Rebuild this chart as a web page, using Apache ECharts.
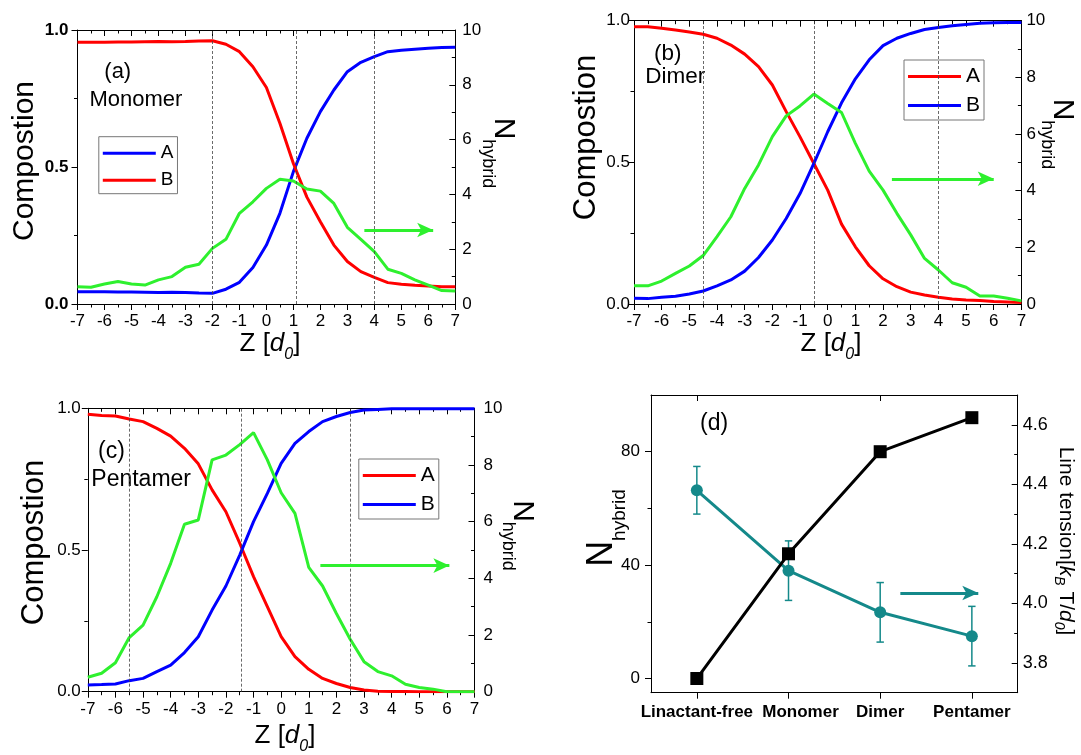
<!DOCTYPE html>
<html><head><meta charset="utf-8">
<script src="https://cdn.jsdelivr.net/npm/echarts@6/dist/echarts.min.js"></script>
<style>html,body{margin:0;padding:0;background:#fff}#c{width:1081px;height:755px}</style>
</head><body><div id="c"></div>
<script>
// ---------- data ----------
const zValues = [-7,-6.5,-6,-5.5,-5,-4.5,-4,-3.5,-3,-2.5,-2,-1.5,-1,-0.5,0,0.5,1,1.5,2,2.5,3,3.5,4,4.5,5,5.5,6,6.5,7];

const monomerA = [0.045,0.045,0.045,0.044,0.044,0.043,0.042,0.043,0.042,0.040,0.039,0.054,0.079,0.133,0.215,0.331,0.483,0.605,0.702,0.781,0.848,0.882,0.903,0.921,0.926,0.930,0.933,0.936,0.937];
const monomerB = [0.955,0.955,0.955,0.956,0.956,0.957,0.958,0.957,0.958,0.960,0.961,0.948,0.921,0.866,0.790,0.660,0.513,0.390,0.300,0.215,0.155,0.118,0.097,0.078,0.072,0.068,0.066,0.063,0.063];
const monomerN = [0.63,0.61,0.73,0.82,0.73,0.69,0.88,1.00,1.34,1.45,2.03,2.36,3.31,3.73,4.22,4.55,4.49,4.20,4.12,3.67,2.80,2.36,1.91,1.27,1.12,0.88,0.69,0.49,0.47];

const dimerA = [0.979,0.979,0.973,0.967,0.960,0.952,0.938,0.914,0.882,0.838,0.773,0.679,0.590,0.496,0.402,0.282,0.202,0.135,0.089,0.061,0.042,0.032,0.024,0.018,0.014,0.012,0.009,0.007,0.005];
const dimerB = [0.020,0.019,0.024,0.027,0.035,0.046,0.064,0.085,0.116,0.164,0.226,0.302,0.390,0.496,0.608,0.710,0.795,0.862,0.912,0.938,0.955,0.969,0.976,0.982,0.987,0.991,0.993,0.994,0.994];
const dimerN = [0.64,0.64,0.81,1.08,1.34,1.71,2.38,3.08,4.08,4.91,5.91,6.64,6.99,7.41,7.08,6.76,5.67,4.69,4.02,3.20,2.44,1.61,1.20,0.75,0.59,0.28,0.28,0.20,0.11];

const pentamerA = [0.979,0.975,0.973,0.962,0.953,0.929,0.902,0.859,0.804,0.712,0.635,0.524,0.406,0.300,0.194,0.124,0.079,0.047,0.029,0.015,0.006,0.002,0.001,0.001,0,0,0,0,0];
const pentamerB = [0.024,0.025,0.027,0.039,0.047,0.071,0.094,0.138,0.194,0.288,0.373,0.482,0.600,0.700,0.806,0.876,0.918,0.953,0.971,0.985,0.994,0.996,0.998,0.998,0.998,0.998,0.998,0.998,0.998];
const pentamerN = [0.51,0.65,1.02,1.91,2.35,3.35,4.53,5.91,6.06,8.18,8.35,8.72,9.14,8.18,7.02,6.29,4.39,3.73,2.76,1.85,1.06,0.71,0.56,0.26,0.15,0.09,0,0,0];

const guideMonomer = [-2, 1.1, 4];
const guideDimer = [-4.5, -0.5, 4];
const guidePentamer = [-5.5, -1.45, 2.5];

// arrows: [zStart, zEnd, N level]
const arrowMonomer = [3.63, 6.18, 2.7];
const arrowDimer = [2.32, 6.0, 4.42];
const arrowPentamer = [1.42, 6.09, 4.45];

const systems = ['Linactant-free','Monomer','Dimer','Pentamer'];
const nHybridTotal = [0, 44, 80, 92];
const lineTension = [4.38, 4.11, 3.97, 3.89];
const lineTensionErr = [0.08, 0.10, 0.10, 0.10];
const arrowTension = [2.22, 3.07, 4.035];

const nLeftLabels = [0, 40, 80];
const nLeftMinor = [20, 60];
const tensionLabels = [3.8, 4.0, 4.2, 4.4, 4.6];
const tensionMinor = [3.9, 4.1, 4.3, 4.5];

// ---------- style ----------
const FONT = 'Liberation Sans, Arial, Helvetica, sans-serif';
const RED = '#ff0000', BLUE = '#0000ff', GREEN = '#2ef02e', TEAL = '#14898a', BLACK = '#000';
const zip = (xs, ys) => xs.map((x, i) => [x, ys[i]]);

const grids = [
  {left: 77.5, top: 30, width: 377.8, height: 274},
  {left: 634, top: 20.7, width: 387.4, height: 283.3},
  {left: 87.8, top: 408.3, width: 386.7, height: 283.4},
  {left: 651, top: 395, width: 366.7, height: 297.7}
];

const axLine = {show: true, onZero: false, lineStyle: {color: BLACK, width: 1}};
const noLine = {show: false, onZero: false};
function zAxes(gi, margin) {
  const base = {type: 'value', gridIndex: gi, min: -7, max: 7, interval: 1, axisLine: axLine, splitLine: {show: false}};
  return [
    Object.assign({}, base, {position: 'bottom',
      axisTick: {show: true, inside: false, length: 6, lineStyle: {color: BLACK}},
      minorTick: {show: true, splitNumber: 2, length: 3.5, lineStyle: {color: BLACK}},
      axisLabel: {fontSize: 17, color: BLACK, margin: margin, fontFamily: FONT}}),
    Object.assign({}, base, {position: 'top',
      axisTick: {show: true, inside: true, length: 6, lineStyle: {color: BLACK}},
      minorTick: {show: true, splitNumber: 2, length: 3.5, lineStyle: {color: BLACK}},
      axisLabel: {show: false}})
  ];
}
function compAxes(gi, leftMargin, rightMargin, bold) {
  return [
    {type: 'value', gridIndex: gi, position: 'left', min: 0, max: 1, interval: 0.5, axisLine: axLine, splitLine: {show: false},
      axisTick: {show: true, inside: false, length: 6, lineStyle: {color: BLACK}},
      minorTick: {show: true, splitNumber: 2, length: 3.5, lineStyle: {color: BLACK}},
      axisLabel: {fontSize: 17, color: BLACK, margin: leftMargin, fontFamily: FONT, fontWeight: bold ? 'bold' : 'normal', formatter: v => v.toFixed(1)}},
    {type: 'value', gridIndex: gi, position: 'right', min: 0, max: 10, interval: 2, axisLine: axLine, splitLine: {show: false},
      axisTick: {show: true, inside: true, length: 6, lineStyle: {color: BLACK}},
      minorTick: {show: true, splitNumber: 2, length: 3.5, lineStyle: {color: BLACK}},
      axisLabel: {fontSize: 17, color: BLACK, margin: rightMargin, fontFamily: FONT}}
  ];
}

const xAxes = [].concat(zAxes(0, 9), zAxes(1, 9), zAxes(2, 9), [
  {type: 'category', gridIndex: 3, position: 'bottom', data: systems, axisLine: axLine,
    axisTick: {show: true, inside: false, length: 6, alignWithLabel: true, lineStyle: {color: BLACK}},
    axisLabel: {interval: 0, fontSize: 17, fontWeight: 'bold', color: BLACK, margin: 11, fontFamily: FONT,
      formatter: v => v === 'Monomer' ? '{m|' + v + '}' : v,
      rich: {m: {fontSize: 17, fontWeight: 'bold', color: BLACK, fontFamily: FONT, padding: [0, 0, 0, 24]}}}},
  {type: 'category', gridIndex: 3, position: 'top', data: systems, axisLine: axLine,
    axisTick: {show: true, inside: true, length: 6, alignWithLabel: true, lineStyle: {color: BLACK}},
    axisLabel: {show: false}},
  {type: 'value', gridIndex: 3, position: 'bottom', min: -0.5, max: 3.5, show: false, axisLine: noLine}
]);

const yAxes = [].concat(compAxes(0, 9, 7, true), compAxes(1, 4, 5, false), compAxes(2, 7, 9, false), [
  {type: 'value', gridIndex: 3, position: 'left', min: -5, max: 100, axisLine: axLine, splitLine: {show: false},
    axisTick: {show: true, inside: false, length: 6, customValues: nLeftLabels, lineStyle: {color: BLACK}},
    axisLabel: {customValues: nLeftLabels, fontSize: 17, color: BLACK, margin: 11, fontFamily: FONT}},
  {type: 'value', gridIndex: 3, position: 'left', min: -5, max: 100, axisLine: noLine, splitLine: {show: false},
    axisTick: {show: true, inside: false, length: 3.5, customValues: nLeftMinor, lineStyle: {color: BLACK}},
    axisLabel: {show: false}},
  {type: 'value', gridIndex: 3, position: 'right', min: 3.7, max: 4.7, axisLine: axLine, splitLine: {show: false},
    axisTick: {show: true, inside: true, length: 6, customValues: tensionLabels, lineStyle: {color: BLACK}},
    axisLabel: {customValues: tensionLabels, fontSize: 18, color: BLACK, margin: 5, fontFamily: FONT, formatter: v => v.toFixed(1)}},
  {type: 'value', gridIndex: 3, position: 'right', min: 3.7, max: 4.7, axisLine: noLine, splitLine: {show: false},
    axisTick: {show: true, inside: true, length: 3.5, customValues: tensionMinor, lineStyle: {color: BLACK}},
    axisLabel: {show: false}}
]);

function guideLines(vals) {
  return {silent: true, animation: false, symbol: ['none', 'none'], label: {show: false},
    lineStyle: {type: [3, 2], color: '#444', width: 0.8}, emphasis: {disabled: true},
    data: vals.map(v => ({xAxis: v}))};
}
function arrowLine(a, color) {
  return {silent: true, animation: false, symbol: ['none', 'arrow'], symbolSize: [11, 16], label: {show: false},
    lineStyle: {type: 'solid', color: color, width: 3}, emphasis: {disabled: true},
    data: [[{coord: [a[0], a[2]]}, {coord: [a[1], a[2]]}]]};
}
function curve(name, data, color, xi, yi, extra) {
  return Object.assign({type: 'line', name: name, xAxisIndex: xi, yAxisIndex: yi, data: zip(zValues, data),
    symbol: 'none', showSymbol: false, lineStyle: {color: color, width: 3}, itemStyle: {color: color},
    emphasis: {disabled: true}, z: 3}, extra || {});
}

const series = [
  curve('a|A', monomerA, BLUE, 0, 0),
  curve('a|B', monomerB, RED, 0, 0, {markLine: guideLines(guideMonomer)}),
  curve('a|N', monomerN, GREEN, 0, 1, {markLine: arrowLine(arrowMonomer, GREEN)}),
  curve('b|A', dimerA, RED, 2, 2),
  curve('b|B', dimerB, BLUE, 2, 2, {markLine: guideLines(guideDimer)}),
  curve('b|N', dimerN, GREEN, 2, 3, {markLine: arrowLine(arrowDimer, GREEN)}),
  curve('c|A', pentamerA, RED, 4, 4),
  curve('c|B', pentamerB, BLUE, 4, 4, {markLine: guideLines(guidePentamer)}),
  curve('c|N', pentamerN, GREEN, 4, 5, {markLine: arrowLine(arrowPentamer, GREEN)}),
  {type: 'custom', name: 'err', xAxisIndex: 6, yAxisIndex: 8, z: 2,
    data: systems.map((s, i) => [i, lineTension[i] - lineTensionErr[i], lineTension[i] + lineTensionErr[i]]),
    encode: {x: 0, y: [1, 2]},
    renderItem: (params, api) => {
      const lo = api.coord([api.value(0), api.value(1)]);
      const hi = api.coord([api.value(0), api.value(2)]);
      const w = 3.7, st = {stroke: TEAL, lineWidth: 1.5};
      return {type: 'group', children: [
        {type: 'line', shape: {x1: lo[0], y1: lo[1], x2: hi[0], y2: hi[1]}, style: st},
        {type: 'line', shape: {x1: lo[0] - w, y1: lo[1], x2: lo[0] + w, y2: lo[1]}, style: st},
        {type: 'line', shape: {x1: hi[0] - w, y1: hi[1], x2: hi[0] + w, y2: hi[1]}, style: st}
      ]};
    }},
  {type: 'line', name: 'tension', xAxisIndex: 6, yAxisIndex: 8, data: lineTension, symbol: 'circle', symbolSize: 12,
    lineStyle: {color: TEAL, width: 3}, itemStyle: {color: TEAL}, emphasis: {disabled: true}, z: 3},
  {type: 'line', name: 'nh', xAxisIndex: 6, yAxisIndex: 6, data: nHybridTotal, symbol: 'rect', symbolSize: 13,
    lineStyle: {color: BLACK, width: 3}, itemStyle: {color: BLACK}, emphasis: {disabled: true}, z: 4},
  {type: 'line', name: 'arrowD', xAxisIndex: 8, yAxisIndex: 8, data: [], symbol: 'none',
    markLine: arrowLine([arrowTension[0], arrowTension[1], arrowTension[2]], TEAL)}
];

function legend(prefix, left, top, fs, pad, gap) {
  return {orient: 'vertical', left: left, top: top, data: [prefix + '|A', prefix + '|B'],
    formatter: n => n.split('|')[1], selectedMode: false, icon: 'rect', itemWidth: 53, itemHeight: 3, itemGap: gap,
    padding: pad, borderColor: '#777', borderWidth: 1, borderRadius: 0,
    textStyle: {fontSize: fs, color: BLACK, fontFamily: FONT}};
}

function txt(x, y, text, fs, align) {
  return {type: 'text', x: x, y: y, silent: true,
    style: {text: text, fontSize: fs, fontFamily: FONT, fill: BLACK, textAlign: align || 'left', textVerticalAlign: 'middle'}};
}
function rot(x, y, text, fs, r) {
  return {type: 'text', x: x, y: y, rotation: r, silent: true,
    style: {text: text, fontSize: fs, fontFamily: FONT, fill: BLACK, textAlign: 'center', textVerticalAlign: 'middle'}};
}
function nHybrid(x, y, r, big, small, pad) {
  return {type: 'text', x: x, y: y, rotation: r, silent: true,
    style: {text: '{n|N}{s|hybrid}', fill: BLACK, textAlign: 'center', textVerticalAlign: 'middle',
      rich: {n: {fontSize: big, lineHeight: big, fontFamily: FONT, fill: BLACK, verticalAlign: 'top'},
             s: {fontSize: small, lineHeight: small, fontFamily: FONT, fill: BLACK, verticalAlign: 'top', padding: [pad, 0, 0, 0]}}}};
}
function zTitle(x, y) {
  return {type: 'text', x: x, y: y, silent: true,
    style: {text: '{m|Z [}{i|d}{s|0}{m|]}', fill: BLACK, textAlign: 'center', textVerticalAlign: 'top',
      rich: {m: {fontSize: 26, lineHeight: 26, fontFamily: FONT, fill: BLACK, verticalAlign: 'top'},
             i: {fontSize: 26, lineHeight: 26, fontFamily: FONT, fontStyle: 'italic', fill: BLACK, verticalAlign: 'top'},
             s: {fontSize: 16, lineHeight: 16, fontFamily: FONT, fontStyle: 'italic', fill: BLACK, verticalAlign: 'top', padding: [16, 0, 0, 0]}}}};
}
const tensionTitle = {type: 'text', x: 1066, y: 541, rotation: -Math.PI / 2, silent: true,
  style: {text: '{m|Line tension[}{i|k}{s|B}{m| T/}{i|d}{s|0}{m|]}', fill: BLACK, textAlign: 'center', textVerticalAlign: 'middle',
    rich: {m: {fontSize: 21, lineHeight: 21, fontFamily: FONT, fill: BLACK, verticalAlign: 'top'},
           i: {fontSize: 21, lineHeight: 21, fontFamily: FONT, fontStyle: 'italic', fill: BLACK, verticalAlign: 'top'},
           s: {fontSize: 14, lineHeight: 14, fontFamily: FONT, fontStyle: 'italic', fill: BLACK, verticalAlign: 'top', padding: [10.6, 0, 0, 0]}}}};

const graphic = [
  txt(104.3, 72, '(a)', 22), txt(89.5, 100, 'Monomer', 22),
  txt(653.9, 54, '(b)', 22.5), txt(645.2, 76.5, 'Dimer', 22.5),
  txt(98.1, 451.7, '(c)', 23), txt(91.3, 479.8, 'Pentamer', 23),
  txt(700, 424, '(d)', 23),
  rot(25, 161, 'Compostion', 30, Math.PI / 2),
  rot(586.6, 137.5, 'Compostion', 31, Math.PI / 2),
  rot(34.4, 542.5, 'Compostion', 31, Math.PI / 2),
  nHybrid(503, 153, -Math.PI / 2, 30, 18, 21),
  nHybrid(1062, 134, -Math.PI / 2, 30, 18, 21),
  nHybrid(522.7, 535.5, -Math.PI / 2, 30, 18, 21),
  nHybrid(602, 528, Math.PI / 2, 36, 19, 26.6),
  zTitle(270, 331), zTitle(831, 331), zTitle(285, 722.8),
  tensionTitle
];

const chart = echarts.init(document.getElementById('c'), null, {renderer: 'canvas'});
chart.setOption({
  animation: false,
  backgroundColor: '#fff',
  grid: grids,
  xAxis: xAxes,
  yAxis: yAxes,
  legend: [legend('a', 98.8, 136.7, 19, [7, 4, 4, 4], 8), legend('b', 904, 60, 21, [6, 4, 4, 4], 8), legend('c', 358.8, 459, 21, [6, 4, 4, 4], 8)],
  series: series,
  graphic: graphic
});
</script></body></html>
